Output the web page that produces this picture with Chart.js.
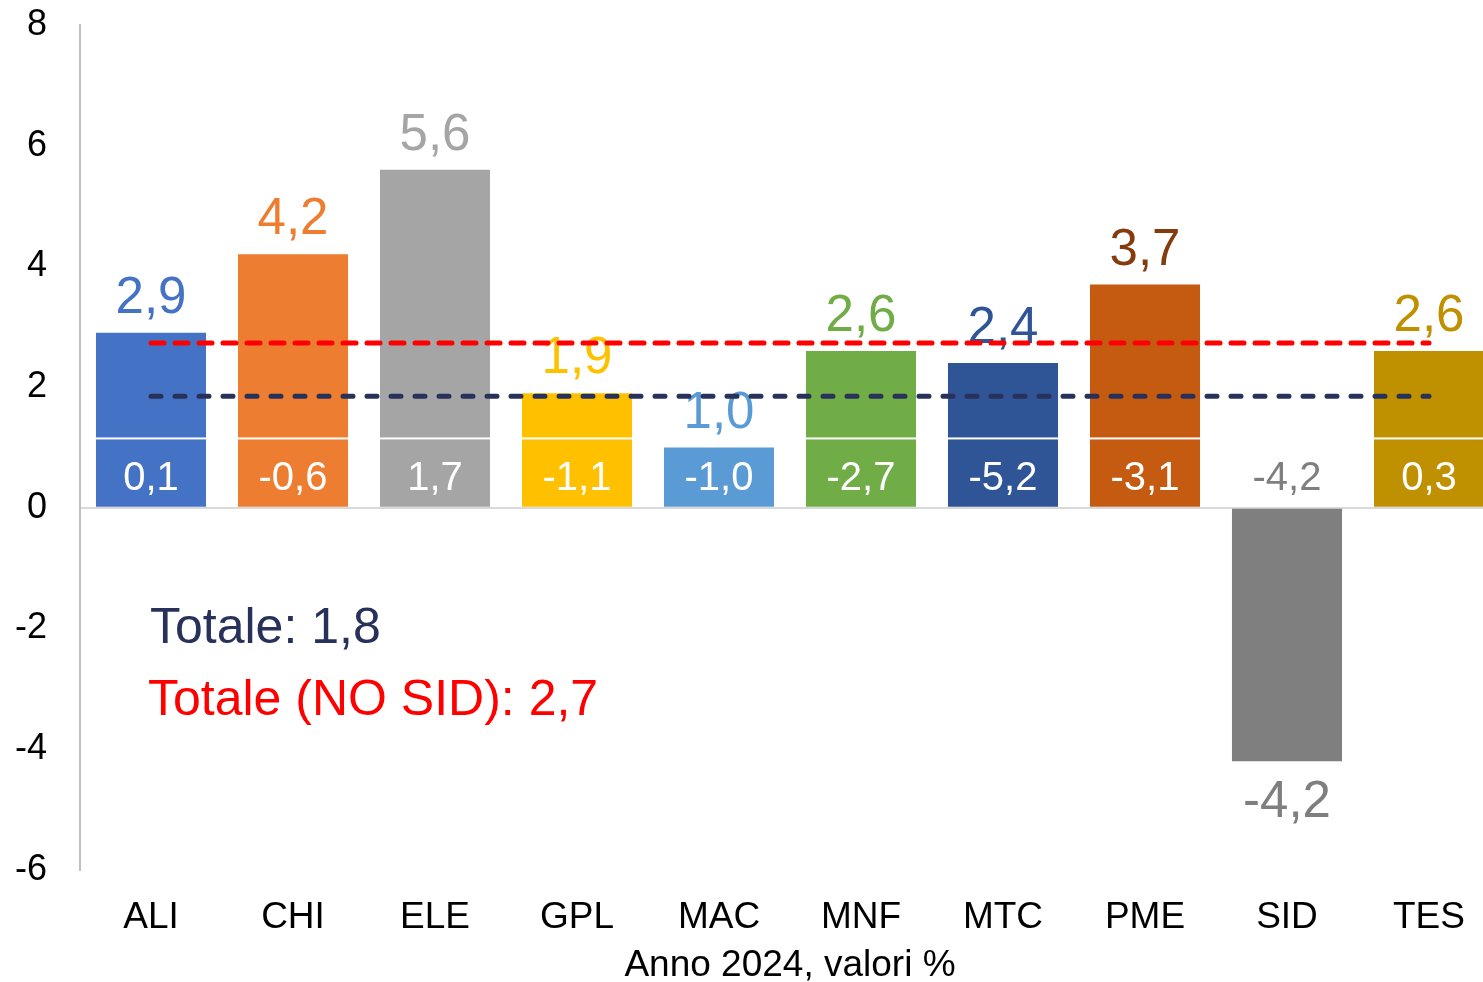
<!DOCTYPE html>
<html>
<head>
<meta charset="utf-8">
<script src="https://cdn.jsdelivr.net/npm/chart.js@4.4.1/dist/chart.umd.min.js"></script>
<style>
  html, body { margin: 0; padding: 0; background: #fff; overflow: hidden; }
  #wrap { width: 1500px; height: 982px; }
</style>
</head>
<body>
<div id="wrap"><canvas id="myChart" width="1500" height="982"></canvas></div>
<script>
const categories = ["ALI", "CHI", "ELE", "GPL", "MAC", "MNF", "MTC", "PME", "SID", "TES"];
const values2024 = [2.9, 4.2, 5.6, 1.9, 1.0, 2.6, 2.4, 3.7, -4.2, 2.6];
const innerValues = [0.1, -0.6, 1.7, -1.1, -1.0, -2.7, -5.2, -3.1, -4.2, 0.3];
const totale = [1.85, 1.85, 1.85, 1.85, 1.85, 1.85, 1.85, 1.85, 1.85, 1.85];
const totaleNoSid = [2.73, 2.73, 2.73, 2.73, 2.73, 2.73, 2.73, 2.73, 2.73, 2.73];
const yMin = -6;
const yMax = 8;
const yStep = 2;

const barColors = ["#4472C4", "#ED7D31", "#A5A5A5", "#FFC000", "#5B9BD5",
  "#70AD47", "#2F5597", "#C55A11", "#7F7F7F", "#BF9000"];
const labelColors = ["#4472C4", "#ED7D31", "#A5A5A5", "#FFC000", "#5B9BD5",
  "#70AD47", "#2F5597", "#843C0C", "#7F7F7F", "#BF9000"];

const FONT = '"Liberation Sans", Arial, sans-serif';
const navy = "#283159";

function fmt(v) {
  return v.toFixed(1).replace(".", ",");
}

// labels on bars, white band line, and the two "Totale" notes
const labelPlugin = {
  id: "barLabels",
  afterDatasetDraw(chart, args) {
    if (args.index !== 0) return;
    const ctx = chart.ctx;
    const y = chart.scales.y;
    const bandTop = y.getPixelForValue(1.15);
    const zero = y.getPixelForValue(0);
    ctx.save();
    ctx.textAlign = "center";
    ctx.textBaseline = "alphabetic";
    args.meta.data.forEach((bar, i) => {
      const v = values2024[i];
      if (v > 1.15) {
        ctx.fillStyle = "#fff";
        ctx.fillRect(bar.x - bar.width / 2, bandTop - 1, bar.width, 2);
      }
      ctx.font = "51px " + FONT;
      ctx.fillStyle = labelColors[i];
      if (v >= 0) {
        ctx.fillText(fmt(v), bar.x, bar.y - 20);
      } else {
        ctx.fillText(fmt(v), bar.x, bar.y + 56);
      }
      ctx.font = "40px " + FONT;
      ctx.fillStyle = v > 0 ? "#fff" : labelColors[i];
      ctx.fillText(fmt(innerValues[i]), bar.x, zero - 18);
    });
    ctx.restore();
  },
  afterDraw(chart) {
    const ctx = chart.ctx;
    ctx.save();
    ctx.textAlign = "left";
    ctx.textBaseline = "alphabetic";
    ctx.font = "50px " + FONT;
    ctx.fillStyle = navy;
    ctx.fillText("Totale: 1,8", 150, 643);
    ctx.fillStyle = "#FF0000";
    ctx.fillText("Totale (NO SID): 2,7", 148, 715);
    ctx.restore();
  }
};

const ctx = document.getElementById("myChart");

new Chart(ctx, {
  type: "bar",
  data: {
    labels: categories,
    datasets: [
      {
        type: "bar",
        label: "2024",
        data: values2024,
        backgroundColor: barColors,
        borderWidth: 0,
        barPercentage: 0.775,
        categoryPercentage: 1,
        order: 2
      },
      {
        type: "line",
        label: "Totale",
        data: totale,
        borderColor: navy,
        borderWidth: 5,
        borderDash: [10, 14],
        borderCapStyle: "round",
        pointRadius: 0,
        fill: false,
        order: 1
      },
      {
        type: "line",
        label: "Totale (NO SID)",
        data: totaleNoSid,
        borderColor: "#FF0000",
        borderWidth: 5,
        borderDash: [13, 11],
        borderCapStyle: "round",
        pointRadius: 0,
        fill: false,
        order: 1
      }
    ]
  },
  options: {
    responsive: false,
    animation: false,
    layout: { padding: { top: 25, right: 0, bottom: 0, left: 0 } },
    plugins: {
      legend: { display: false },
      tooltip: { enabled: false }
    },
    scales: {
      x: {
        offset: true,
        grid: { display: false, drawTicks: false },
        border: { display: false },
        ticks: {
          color: "#000",
          font: { family: FONT, size: 37 },
          padding: 26,
          maxRotation: 0
        },
        title: {
          display: true,
          text: "Anno 2024, valori %",
          color: "#000",
          font: { family: FONT, size: 37, lineHeight: 0.84 },
          padding: { top: 0, bottom: 1 }
        },
        afterFit(scale) {
          scale.height = 112;
        }
      },
      y: {
        min: yMin,
        max: yMax,
        ticks: {
          stepSize: yStep,
          color: "#000",
          font: { family: FONT, size: 36 },
          padding: 33
        },
        grid: {
          drawTicks: false,
          lineWidth: 2,
          color: (c) => (c.tick && c.tick.value === 0 ? "#D9D9D9" : "rgba(0,0,0,0)")
        },
        border: { display: true, color: "#BFBFBF", width: 2 },
        afterFit(scale) {
          scale.width = 80;
          scale.paddingTop = 0;
          scale.paddingBottom = 0;
        }
      }
    }
  },
  plugins: [labelPlugin]
});
</script>
</body>
</html>
